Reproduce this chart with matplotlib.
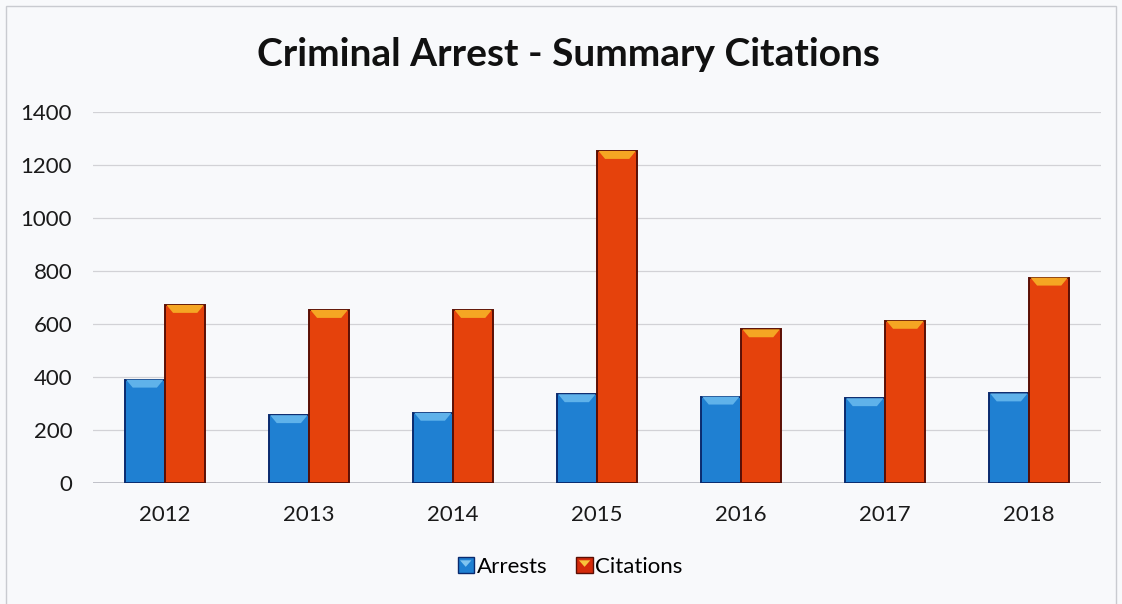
import matplotlib
matplotlib.use("Agg")
import matplotlib.pyplot as plt
from matplotlib.patches import Polygon, Rectangle
from matplotlib.legend_handler import HandlerBase
import numpy as np

years = ["2012", "2013", "2014", "2015", "2016", "2017", "2018"]
arrests = [390, 256, 265, 335, 326, 320, 338]
citations = [672, 653, 653, 1253, 580, 612, 775]
y_ticks = [0, 200, 400, 600, 800, 1000, 1200, 1400]

title = "Criminal Arrest - Summary Citations"
series_names = ["Arrests", "Citations"]

plt.rcParams["font.family"] = ["Lato", "DejaVu Sans"]

BG = "#f8f9fb"
BLUE = "#1f80d2"
BLUE_EDGE = "#0a2a6e"
BLUE_TOP = "#5fb2ea"
RED = "#e5420c"
RED_EDGE = "#5a0f05"
RED_TOP = "#f5a623"

W, H = 1122, 604
fig = plt.figure(figsize=(W / 100, H / 100), dpi=100, facecolor=BG)

# outer chart frame
fig.patches.append(Rectangle((6 / W, -0.02), 1110 / W, 1 - 6 / H + 0.02,
                             transform=fig.transFigure, fill=False,
                             edgecolor="#c9cbd0", linewidth=1.0))

ax = fig.add_axes([93 / W, 121 / H, (1101 - 93) / W, (483 - 112) / H])
ax.set_facecolor(BG)

x = np.arange(len(years))
bw = 0.28


def bevel_bars(xs, vals, face, edge, top):
    ax.bar(xs, vals, width=bw, color=face, edgecolor=edge, linewidth=1.4, zorder=3)
    dx = bw * 0.2
    dy = 30
    for xc, v in zip(xs, vals):
        x0, x1 = xc - bw / 2, xc + bw / 2
        ax.add_patch(Polygon([(x0 + 0.01, v), (x1 - 0.01, v), (x1 - dx, v - dy), (x0 + dx, v - dy)],
                             closed=True, facecolor=top, edgecolor="none", zorder=4))


bevel_bars(x - bw / 2, arrests, BLUE, BLUE_EDGE, BLUE_TOP)
bevel_bars(x + bw / 2, citations, RED, RED_EDGE, RED_TOP)

ax.set_xlim(-0.5, len(years) - 0.5)
ax.set_ylim(0, 1400)
ax.set_yticks(y_ticks)
ax.set_yticklabels([str(t) for t in y_ticks])
ax.set_xticks(x)
ax.set_xticklabels(years)
ax.tick_params(axis="both", length=0, labelsize=16, colors="#1a1a1a")
ax.tick_params(axis="y", pad=15)
ax.tick_params(axis="x", pad=16)
ax.grid(axis="y", color="#d2d2d6", linewidth=0.9, zorder=0)
for s in ax.spines.values():
    s.set_visible(False)
ax.axhline(0, color="#b8b8c0", linewidth=1.2, zorder=2)

fig.text(568 / W, 1 - 55 / H, title, ha="center", va="center",
         fontsize=28, fontweight="bold", color="#111111")


class BevelHandler(HandlerBase):
    def __init__(self, face, edge, top):
        super().__init__()
        self.face, self.edge, self.top = face, edge, top

    def create_artists(self, legend, orig_handle, xdescent, ydescent,
                       width, height, fontsize, trans):
        s = height * 1.05
        x0 = width - s
        y0 = (height - s) / 2
        r = Rectangle((x0, y0), s, s, facecolor=self.face, edgecolor=self.edge,
                      linewidth=1.0, transform=trans)
        t = Polygon([(x0 + s * 0.15, y0 + s * 0.8), (x0 + s * 0.85, y0 + s * 0.8),
                     (x0 + s * 0.5, y0 + s * 0.4)], closed=True,
                    facecolor=self.top, edgecolor="none", transform=trans)
        return [r, t]


h1 = Rectangle((0, 0), 1, 1)
h2 = Rectangle((0, 0), 1, 1)
fig.legend([h1, h2], series_names, loc="center", bbox_to_anchor=(570 / W, 1 - 567 / H),
           ncol=2, frameon=False, fontsize=16, handlelength=0.75, handletextpad=0.12,
           columnspacing=1.3,
           handler_map={h1: BevelHandler(BLUE, BLUE_EDGE, "#7fc4f0"),
                        h2: BevelHandler("#d42a0a", RED_EDGE, "#f7c43a")})

fig.savefig("out.png", dpi=100, facecolor=BG)
